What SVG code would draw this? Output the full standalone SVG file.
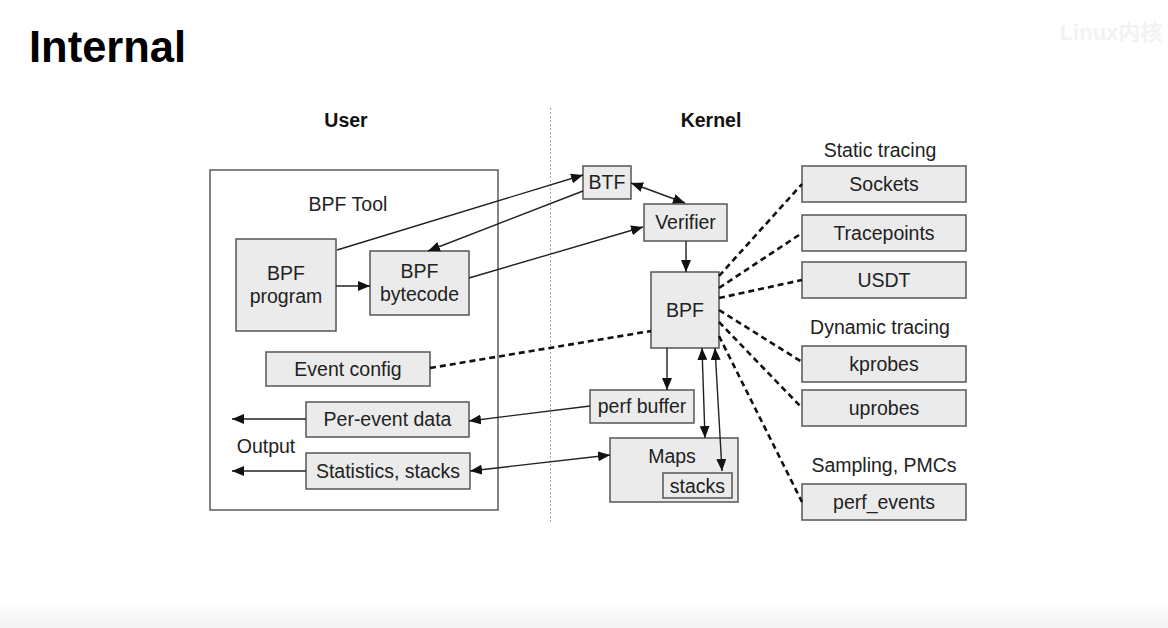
<svg xmlns="http://www.w3.org/2000/svg" width="1168" height="628" viewBox="0 0 1168 628">
<defs>
<marker id="ah" viewBox="0 0 12 10" refX="12" refY="5" markerWidth="12" markerHeight="10" markerUnits="userSpaceOnUse" orient="auto-start-reverse">
<path d="M0,0 L12,5 L0,10 z" fill="#111"/>
</marker>
<linearGradient id="bot" x1="0" y1="0" x2="0" y2="1">
<stop offset="0" stop-color="#ffffff"/>
<stop offset="1" stop-color="#f3f3f3"/>
</linearGradient>
<style>
text{font-family:"Liberation Sans",Arial,sans-serif;fill:#222;font-size:19.5px;text-anchor:middle}
.box{fill:#ebebeb;stroke:#555;stroke-width:1.5}
.hdr{font-weight:bold;fill:#111}
.ln{stroke:#222;stroke-width:1.4;fill:none}
.dash{stroke:#111;stroke-width:2.6;fill:none;stroke-dasharray:6 4}
</style>
</defs>
<rect width="1168" height="628" fill="#fff"/>
<rect x="0" y="600" width="1168" height="28" fill="url(#bot)"/>
<text x="29" y="62" style="font-size:43.5px;font-weight:bold;text-anchor:start;fill:#000">Internal</text>
<text x="1111" y="40" style="font-size:22px;font-weight:bold;fill:#f2f2f2;font-family:'Liberation Sans','Noto Sans CJK SC',sans-serif">Linux内核</text>
<text class="hdr" x="346" y="127">User</text>
<text class="hdr" x="711" y="127">Kernel</text>
<line x1="550.5" y1="108" x2="550.5" y2="522" stroke="#aaa" stroke-width="1" stroke-dasharray="2 2"/>

<g id="bpf-tool"><rect x="210" y="170" width="288" height="340" fill="#fff" stroke="#444" stroke-width="1.3"/><text x="348" y="211">BPF Tool</text></g>
<g id="bpf-program"><rect class="box" x="236" y="239" width="100" height="92"/><text x="286" y="280">BPF</text><text x="286" y="303">program</text></g>
<g id="bpf-bytecode"><rect class="box" x="370" y="251" width="99" height="64"/><text x="419.5" y="278">BPF</text><text x="419.5" y="301">bytecode</text></g>
<g id="event-config"><rect class="box" x="266" y="352" width="164" height="34"/><text x="348" y="376">Event config</text></g>
<g id="per-event-data"><rect class="box" x="306" y="402" width="163" height="35"/><text x="387.5" y="426">Per-event data</text></g>
<g id="statistics"><rect class="box" x="306" y="453" width="164" height="36"/><text x="388" y="478">Statistics, stacks</text></g>
<g id="output"><text x="266" y="453">Output</text></g>

<g id="btf"><rect class="box" x="583" y="166" width="48" height="33"/><text x="607" y="189">BTF</text></g>
<g id="verifier"><rect class="box" x="644" y="204" width="83" height="37"/><text x="685.5" y="229">Verifier</text></g>
<g id="bpf"><rect class="box" x="651" y="272" width="68" height="76"/><text x="685" y="317">BPF</text></g>
<g id="perf-buffer"><rect class="box" x="590" y="390" width="104" height="33"/><text x="642" y="413">perf buffer</text></g>
<g id="maps"><rect class="box" x="610" y="438" width="128" height="64"/><text x="672" y="463">Maps</text>
<g id="stacks"><rect class="box" x="663" y="473" width="69" height="25"/><text x="697.5" y="493">stacks</text></g></g>

<text x="880" y="157">Static tracing</text>
<g id="sockets"><rect class="box" x="802" y="166" width="164" height="36"/><text x="884" y="191">Sockets</text></g>
<g id="tracepoints"><rect class="box" x="802" y="215" width="164" height="36"/><text x="884" y="240">Tracepoints</text></g>
<g id="usdt"><rect class="box" x="802" y="262" width="164" height="36"/><text x="884" y="287">USDT</text></g>
<text x="880" y="334">Dynamic tracing</text>
<g id="kprobes"><rect class="box" x="802" y="346" width="164" height="36"/><text x="884" y="371">kprobes</text></g>
<g id="uprobes"><rect class="box" x="802" y="390" width="164" height="36"/><text x="884" y="415">uprobes</text></g>
<text x="884" y="472">Sampling, PMCs</text>
<g id="perf-events"><rect class="box" x="802" y="484" width="164" height="36"/><text x="884" y="509">perf_events</text></g>

<g id="connectors">
<line class="ln" x1="336" y1="286" x2="370" y2="286" marker-end="url(#ah)"/>
<line class="ln" x1="337" y1="250" x2="583" y2="175" marker-end="url(#ah)"/>
<line class="ln" x1="583" y1="191" x2="428" y2="251" marker-end="url(#ah)"/>
<line class="ln" x1="469" y1="278" x2="643" y2="227" marker-end="url(#ah)"/>
<line class="ln" x1="631" y1="183" x2="685" y2="203" marker-start="url(#ah)" marker-end="url(#ah)"/>
<line class="ln" x1="686" y1="241" x2="686" y2="272" marker-end="url(#ah)"/>
<line class="ln" x1="667" y1="348" x2="667" y2="390" marker-end="url(#ah)"/>
<line class="ln" x1="590" y1="406" x2="469" y2="421" marker-end="url(#ah)"/>
<line class="ln" x1="470" y1="471" x2="610" y2="455" marker-start="url(#ah)" marker-end="url(#ah)"/>
<line class="ln" x1="702" y1="348" x2="705" y2="438" marker-start="url(#ah)" marker-end="url(#ah)"/>
<line class="ln" x1="715" y1="348" x2="722" y2="471" marker-start="url(#ah)" marker-end="url(#ah)"/>
<line class="ln" x1="306" y1="419" x2="232" y2="419" marker-end="url(#ah)"/>
<line class="ln" x1="306" y1="471" x2="232" y2="471" marker-end="url(#ah)"/>
<line class="dash" x1="430" y1="368" x2="651" y2="331"/>
<line class="dash" x1="719" y1="276" x2="802" y2="184"/>
<line class="dash" x1="719" y1="288" x2="802" y2="233"/>
<line class="dash" x1="719" y1="298" x2="802" y2="280"/>
<line class="dash" x1="719" y1="310" x2="802" y2="362"/>
<line class="dash" x1="719" y1="322" x2="802" y2="408"/>
<line class="dash" x1="719" y1="336" x2="802" y2="502"/>
</g>
</svg>
